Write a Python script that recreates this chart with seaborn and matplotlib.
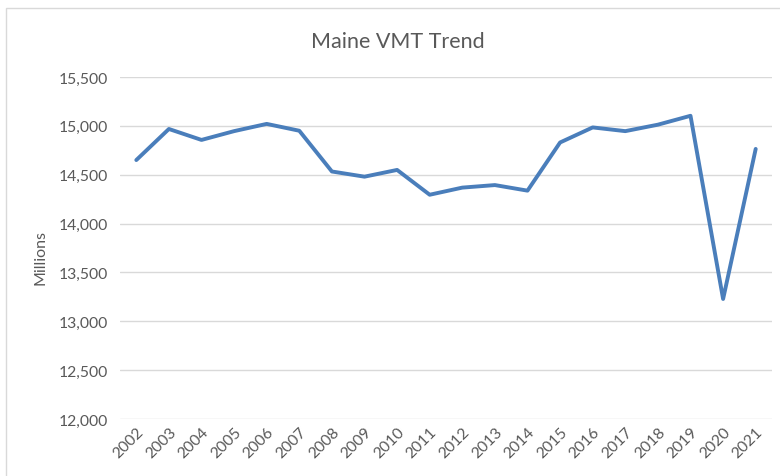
import pandas as pd
import matplotlib.pyplot as plt
import seaborn as sns
from matplotlib.patches import Rectangle

# VMT values (millions)
years = list(range(2002, 2022))
vmt = [14650, 14968, 14856, 14946, 15020, 14950, 14533, 14480, 14549, 14295,
       14368, 14394, 14337, 14830, 14984, 14946, 15012, 15103, 13228, 14764]
y_ticks = [12000, 12500, 13000, 13500, 14000, 14500, 15000, 15500]

df = pd.DataFrame({'Year': years, 'VMT': vmt})

sns.set_style('white')
plt.rcParams['font.family'] = ['Lato', 'DejaVu Sans']

fig = plt.figure(figsize=(7.8, 4.77), dpi=100)
ax = fig.add_axes([120 / 780, 1 - 420 / 477, (772 - 120) / 780, (420 - 78) / 477])

# chart border like excel
fig.patches.append(Rectangle((6 / 780, -0.1), 1.2, 1 - 9 / 477 + 0.1, transform=fig.transFigure,
                             fill=False, edgecolor='#d9d9d9', linewidth=1))

sns.lineplot(x='Year', y='VMT', data=df, ax=ax, color='#4a7ebb', linewidth=2.8)

ax.set_xlim(years[0] - 0.5, years[-1] + 0.5)
ax.set_ylim(12000, 15500)
ax.set_yticks(y_ticks)
ax.set_yticklabels([f'{v:,}' for v in y_ticks])
ax.set_xticks(years)
ax.set_xticklabels([str(y) for y in years], rotation=45, ha='right', rotation_mode='anchor')
ax.yaxis.grid(True, color='#d9d9d9', linewidth=1)
ax.set_axisbelow(True)
for s in ax.spines.values():
    s.set_visible(False)
ax.tick_params(axis='both', length=0, colors='#595959', labelsize=11.3)
ax.tick_params(axis='y', pad=9)
ax.tick_params(axis='x', pad=4)
ax.set_xlabel('')
ax.set_ylabel('Millions', color='#595959', fontsize=11.5)
ax.yaxis.set_label_coords(-0.111, 0.474)
fig.text(398 / 780, 1 - 42 / 477, 'Maine VMT Trend', ha='center', va='center',
         fontsize=15.5, color='#595959')

fig.savefig('out.png', dpi=100)
